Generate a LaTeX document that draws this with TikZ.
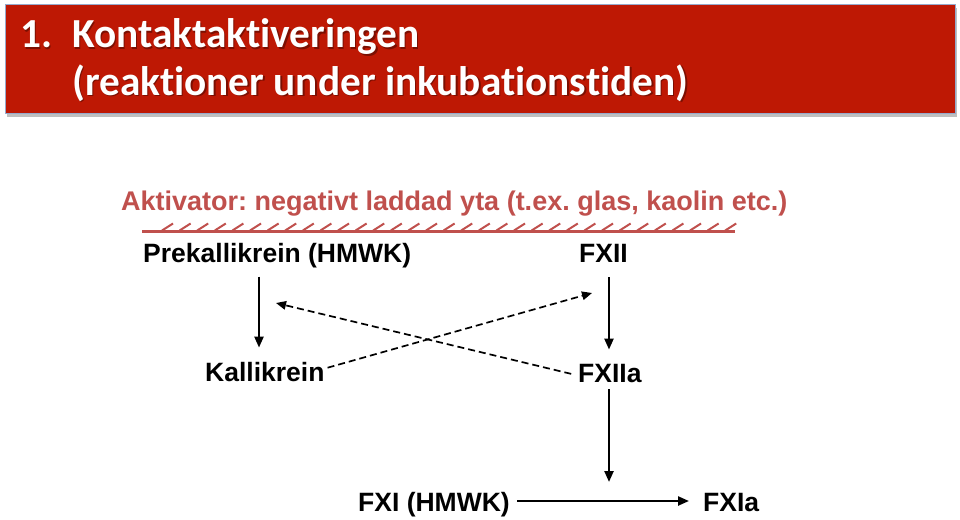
\documentclass[tikz,border=0pt]{standalone}
\usepackage{fontspec}
\setmainfont{Liberation Sans}
\newfontfamily\titlefont[Ligatures=NoCommon]{Carlito}
\usetikzlibrary{arrows.meta,calc}
\definecolor{titlered}{RGB}{190,24,4}
\definecolor{boxedge}{RGB}{150,170,205}
\definecolor{actred}{RGB}{192,80,77}
\frenchspacing
\begin{document}
\begin{tikzpicture}[x=1pt,y=-1pt,
  lbl/.style={font=\fontsize{26.5}{30}\selectfont\bfseries, inner sep=0pt, anchor=base west},
  ttl/.style={font=\titlefont\bfseries\fontsize{41.3}{46}\selectfont, text=white, inner sep=0pt, anchor=base west},
  ttlshadow/.style={font=\titlefont\bfseries\fontsize{41.3}{46}\selectfont, text=black, opacity=0.35, inner sep=0pt, anchor=base west},
  arr/.style={line width=2.3pt, -{Triangle[length=11pt,width=9pt]}},
  darr/.style={line width=1.7pt, dash pattern=on 7pt off 4pt, -{Triangle[length=10pt,width=8.5pt]}},
  hatch/.style={actred, line width=2.2pt}
]
\useasboundingbox (0,0) rectangle (960,519);
\fill[white] (0,0) rectangle (960,519);
% title box
\fill[black!25] (7,8) rectangle (957,117);
\fill[titlered] (5,4) rectangle (955,113);
\draw[boxedge, line width=0.8pt] (5,4) rectangle (955,113);
\node[ttlshadow] at (21.5,49.5) {1.};
\node[ttlshadow] at (73.5,49.5) {Kontaktaktiveringen};
\node[ttlshadow] at (73.5,96.5) {(reaktioner under inkubationstiden)};
\node[ttl] (t1) at (20,48) {1.};
\node[ttl] (t2) at (72,48) {Kontaktaktiveringen};
\node[ttl] (t3) at (72,95) {(reaktioner under inkubationstiden)};
% activator
\node[lbl, text=actred, font=\fontsize{27}{30}\selectfont\bfseries] (akt) at (121,210) {Aktivator: negativt laddad yta (t.ex. glas, kaolin etc.)};
\draw[hatch] (142,231.5) -- (735,231.5);
\foreach \i in {0,...,32} {
  \draw[actred, line width=2pt] ({162+17.6*\i},230.5) -- ({173+17.6*\i},223.5);
}
% nodes
\node[lbl] (pk) at (143,262) {Prekallikrein (HMWK)};
\node[lbl] (fxii) at (579,262) {FXII};
\node[lbl] (kal) at (205,381) {Kallikrein};
\node[lbl] (fxiia) at (578,382) {FXIIa};
\node[lbl] (fxi) at (358,511) {FXI (HMWK)};
\node[lbl] (fxia) at (703,511) {FXIa};
% helper coordinates
\coordinate (xl) at (259,0);
\coordinate (xr) at (609,0);
\coordinate (h) at (0,501);
\coordinate (tipA) at (592,293);
\coordinate (tipB) at (276,303);
% arrows
\draw[arr, shorten <=9pt, shorten >=14pt] (xl |- pk.south) -- (xl |- kal.north);
\draw[arr, shorten <=15pt, shorten >=14pt] (xr |- fxii.south) -- (xr |- fxiia.north);
\draw[arr, shorten <=7pt, shorten >=19pt] (xr |- fxiia.south) -- (xr |- h);
\draw[arr, shorten <=7pt, shorten >=14pt] (fxi.east |- h) -- (fxia.west |- h);
\draw[darr, shorten <=3pt] ([yshift=3pt]kal.east) -- (tipA);
\draw[darr, shorten <=7pt] ([yshift=-2.5pt]fxiia.west) -- (tipB);
\end{tikzpicture}
\end{document}
